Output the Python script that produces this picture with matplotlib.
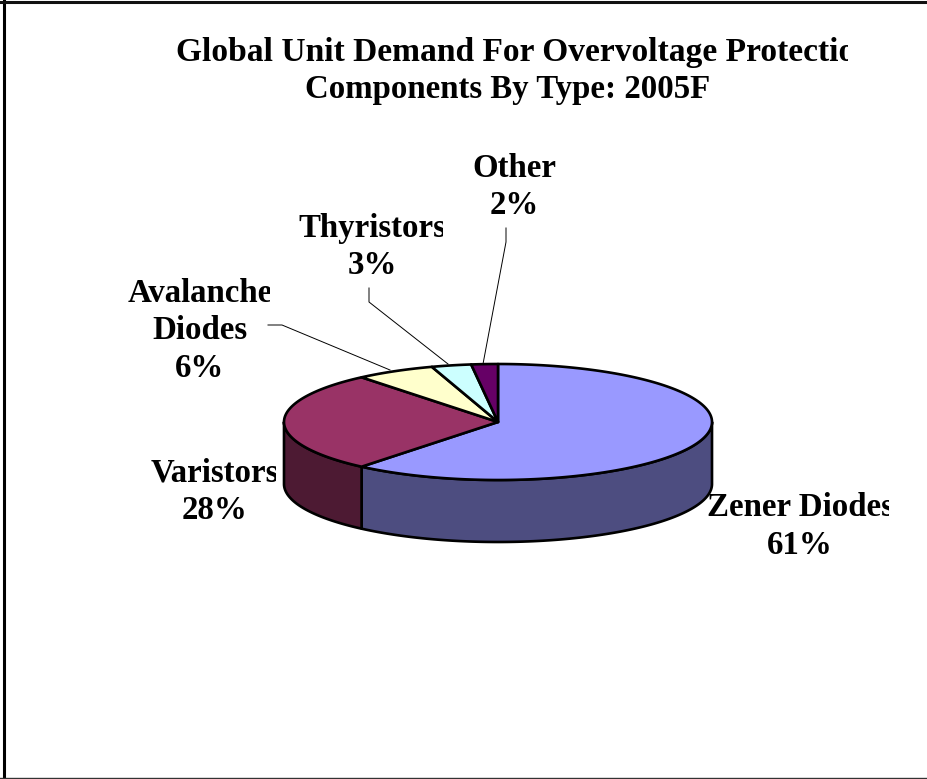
import numpy as np
import matplotlib
matplotlib.use("Agg")
import matplotlib.pyplot as plt
from matplotlib.patches import Polygon, Rectangle

plt.rcParams['font.family'] = ['Liberation Serif', 'DejaVu Serif']

# Data
categories = ["Zener Diodes", "Varistors", "Avalanche\nDiodes", "Thyristors", "Other"]
shares = [61, 28, 6, 3, 2]
top_colors = ["#9999FF", "#993366", "#FFFFCC", "#CCFFFF", "#660066"]
side_colors = ["#4D4D80", "#4D1A33", "#808066", "#668080", "#330033"]
title_lines = ["Global Unit Demand For Overvoltage Protection",
               "Components By Type: 2005F"]

# Layout in picture pixels
cx, cy, rx, ry, depth = 498, 422, 214, 58, 62
label_pos = [(800, 553.5, 889), (215, 519, 276), (200, 376.5, 270), (372, 274, 443), (514, 214, 600)]
leaders = [None, None,
           [(268, 325), (282, 325), (390, 370)],
           [(369, 288), (369, 302), (448, 364)],
           [(506, 228), (506, 242), (483, 364)]]
font_size = 23.7


def rim(a1, a2, drop=0):
    # a1, a2 in degrees, clockwise from 12 o'clock
    t = np.radians(np.linspace(a1, a2, max(int(abs(a2 - a1) * 2), 2)))
    return np.column_stack([cx + rx * np.sin(t), cy - ry * np.cos(t) + drop])


fig = plt.figure(figsize=(9.28, 7.79), dpi=100)
ax = fig.add_axes([0, 0, 1, 1])
ax.set_xlim(0, 928)
ax.set_ylim(779, 0)
ax.axis("off")

# Chart border
ax.plot([4.5, 4.5], [0, 779], color="black", lw=2.2)
ax.plot([0, 928], [1.5, 1.5], color="#111111", lw=2.2)
ax.plot([0, 928], [777.5, 777.5], color="#333333", lw=1.0)

# Slices
edges = np.cumsum([0] + shares) * 3.6
for i in range(len(shares)):
    a1, a2 = edges[i], edges[i + 1]
    # only the front half of the wall shows
    s1, s2 = max(a1, 90), min(a2, 270)
    if s1 < s2:
        wall = np.vstack([rim(s1, s2), rim(s1, s2, depth)[::-1]])
        ax.add_patch(Polygon(wall, closed=True, facecolor=side_colors[i],
                             edgecolor="black", lw=1.9, joinstyle="round"))
for i in range(len(shares)):
    face = np.vstack([[(cx, cy)], rim(edges[i], edges[i + 1])])
    ax.add_patch(Polygon(face, closed=True, facecolor=top_colors[i],
                         edgecolor="black", lw=1.9, joinstyle="round"))

# Leader lines
for pts in leaders:
    if pts is not None:
        ax.plot(*zip(*pts), color="black", lw=0.7)


def clipped(t, x_max):
    t.set_clip_on(True)
    t.set_clip_path(Rectangle((0, 0), x_max, 779, transform=ax.transData))


# Title, first line runs out of its box
t = ax.text(176, 61, title_lines[0], ha="left", va="baseline",
            fontsize=24.1, fontweight="bold")
clipped(t, 848)
ax.text(508, 98, title_lines[1], ha="center", va="baseline",
        fontsize=font_size, fontweight="bold")

# Labels, y is the baseline of the last line
for name, share, (x, y, x_max) in zip(categories, shares, label_pos):
    t = ax.text(x, y, f"{name}\n{share}%", ha="center", va="baseline",
                multialignment="center", linespacing=1.27,
                fontsize=font_size, fontweight="bold")
    clipped(t, x_max)

fig.savefig("out.png", dpi=100, facecolor="white")
